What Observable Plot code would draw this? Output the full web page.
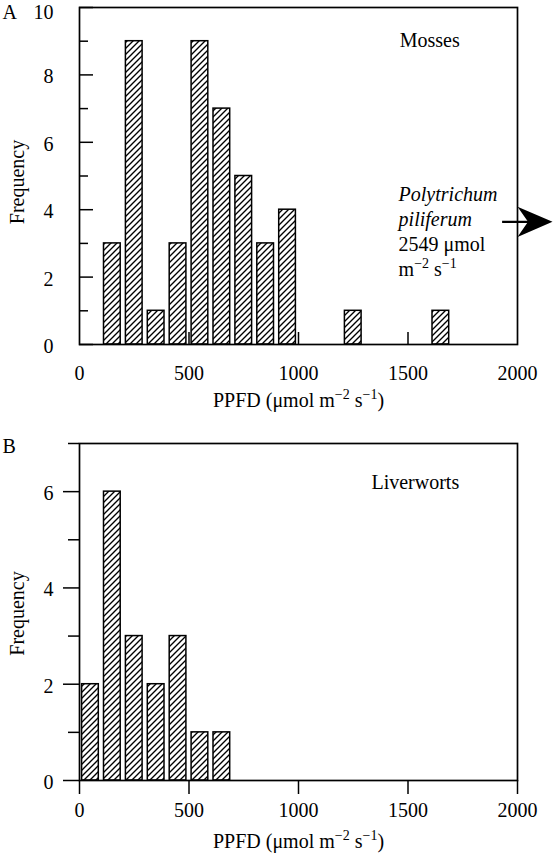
<!DOCTYPE html>
<html><head><meta charset="utf-8">
<script src="https://cdn.jsdelivr.net/npm/d3@7"></script>
<script src="https://cdn.jsdelivr.net/npm/@observablehq/plot@0.6"></script>
<style>
html,body{margin:0;padding:0;background:#fff;overflow:hidden;}
#wrap{position:relative;width:554px;height:853px;}
#wrap svg{position:absolute;left:0;overflow:visible;}
</style></head><body><div id="wrap"></div>
<script>
// ---- data ----
const mossCenters  = [150, 250, 350, 450, 550, 650, 750, 850, 950, 1250, 1650];
const mossCounts   = [3, 9, 1, 3, 9, 7, 5, 3, 4, 1, 1];
const liverCenters = [50, 150, 250, 350, 450, 550, 650];
const liverCounts  = [2, 6, 3, 2, 3, 1, 1];
const binWidth = 100;
const xTicks = [0, 500, 1000, 1500, 2000];
const mossYMajor = [0, 2, 4, 6, 8, 10];
const mossYMinor = [1, 3, 5, 7, 9];
const liverYMajor = [0, 2, 4, 6];
const liverYMinor = [1, 3, 5, 7];
const xTitle = "PPFD (μmol m^−2 s^−1)";
const yTitle = "Frequency";
const panelLetters = ["A", "B"];
const panelNames = ["Mosses", "Liverworts"];
const namePosX = [1462, 1333];
const namePosY = [9.02, 6.18];
const noteLines = ["Polytrichum", "piliferum", "2549 μmol", "m^−2 s^−1"];
const noteItalic = [true, true, false, false];
const noteX = 1457;
const noteY = [4.45, 3.71, 2.97, 2.23];
const arrowY = 3.64, arrowX1 = 1932, arrowX2 = 2085, arrowHeadX = 2080;

const FONT = "'Liberation Serif', 'Times New Roman', serif";
const FS = 20;
const ns = "http://www.w3.org/2000/svg";

const arrowHead = {draw(ctx, size) {
  const r = Math.sqrt(size / Math.PI);
  ctx.moveTo(r, 0); ctx.lineTo(-r, -0.86 * r); ctx.lineTo(-0.4 * r, 0); ctx.lineTo(-r, 0.86 * r); ctx.closePath();
}};

function addHatch(svg, id) {
  const defs = document.createElementNS(ns, "defs");
  defs.innerHTML = `<pattern id="${id}" patternUnits="userSpaceOnUse" width="6" height="6"><rect width="6" height="6" fill="white"/><path d="M-1.5,1.5L1.5,-1.5M0,6L6,0M4.5,7.5L7.5,4.5" stroke="black" stroke-width="1.35"/></pattern>`;
  svg.insertBefore(defs, svg.firstChild);
}
function supify(svg) {
  const sup = 14, raise = 7.5;
  svg.querySelectorAll("text").forEach(t => {
    const s = t.textContent;
    if (!s.includes("^")) return;
    t.textContent = "";
    const parts = s.split(/\^([−\-]?\d+)/);
    parts.forEach((p, i) => {
      if (!p) return;
      const ts = document.createElementNS(ns, "tspan");
      ts.textContent = p;
      if (i % 2 === 1) { ts.setAttribute("font-size", sup); ts.setAttribute("dy", -raise); }
      else if (i > 0) { ts.setAttribute("dy", raise); }
      t.appendChild(ts);
    });
  });
}

function panel(opts) {
  const data = opts.centers.map((c, i) => ({c, n: opts.counts[i]}));
  const inward = opts.inward;
  const ymax = opts.ydomain[1];
  const svg = Plot.plot({
    width: 554, height: opts.height,
    marginLeft: 79, marginRight: 37, marginTop: opts.mt, marginBottom: opts.mb,
    style: {fontFamily: FONT, fontSize: FS + "px", color: "black", background: "transparent"},
    x: {domain: [0, 2000], label: null},
    y: {domain: opts.ydomain, label: null},
    marks: [
      Plot.rectY(data, {x1: d => d.c - binWidth / 2, x2: d => d.c + binWidth / 2, y: "n",
        fill: `url(#${opts.id})`, stroke: "black", strokeWidth: 1.5, insetLeft: 2.6, insetRight: 2.6}),
      Plot.frame({stroke: "black", strokeWidth: 1.7}),
      Plot.axisY(opts.major, {tickSize: inward ? -14 : 16, fill: "none", strokeWidth: 1.5}),
      Plot.axisY(opts.minor, {tickSize: inward ? -9 : 11, fill: "none", strokeWidth: 1.5}),
      Plot.axisY(opts.major.filter(v => v !== ymax), {tickSize: 0, tickPadding: 26, fontSize: FS, tickFormat: "d", dy: 2}),
      Plot.axisY(opts.major.filter(v => v === ymax), {tickSize: 0, tickPadding: 26, fontSize: FS, tickFormat: "d", dy: 4.6}),
      Plot.axisX(opts.xt, {tickSize: inward ? -12 : 14, fill: "none", strokeWidth: 1.5}),
      Plot.axisX(xTicks, {tickSize: 0, tickPadding: opts.xpad, fontSize: FS, tickFormat: "d"}),
      Plot.text([xTitle], {text: d => d, frameAnchor: "bottom", lineAnchor: "middle", textAnchor: "middle", dy: opts.titleDy, fontSize: FS}),
      Plot.text([yTitle], {text: d => d, frameAnchor: "left", textAnchor: "middle", lineAnchor: "middle", rotate: -90, dx: -61.5, dy: opts.freqDy, fontSize: FS}),
      Plot.text([opts.letter], {text: d => d, frameAnchor: "top-left", textAnchor: "start", lineAnchor: "middle", dx: -77, dy: opts.letterDy, fontSize: FS}),
      Plot.text([opts.name], {text: d => d, x: () => opts.nameX, y: () => opts.nameY, textAnchor: "start", fontSize: FS}),
      ...(opts.extra || [])
    ]
  });
  addHatch(svg, opts.id);
  supify(svg);
  return svg;
}

const noteData = noteLines.map((t, i) => ({t, y: noteY[i], it: noteItalic[i]}));
const arrowData = [{y: arrowY, x1: arrowX1, x2: arrowX2, xh: arrowHeadX}];

const svgA = panel({
  id: "hatchA", height: 420, mt: 7, mb: 76, ydomain: [0, 10],
  centers: mossCenters, counts: mossCounts, major: mossYMajor, minor: mossYMinor,
  inward: true, xt: [500, 1000, 1500], xpad: 21, titleDy: 56, freqDy: 6, letter: panelLetters[0], letterDy: 4.6,
  name: panelNames[0], nameX: namePosX[0], nameY: namePosY[0],
  extra: [
    Plot.text(noteData.filter(d => d.it), {x: () => noteX, y: "y", text: "t", textAnchor: "start", fontStyle: "italic", fontSize: FS}),
    Plot.text(noteData.filter(d => !d.it), {x: () => noteX, y: "y", text: "t", textAnchor: "start", fontSize: FS}),
    Plot.ruleY(arrowData, {y: "y", x1: "x1", x2: "x2", stroke: "black", strokeWidth: 2.2}),
    Plot.dot(arrowData, {x: "xh", y: "y", r: 17.5, symbol: arrowHead, fill: "black", stroke: "none"})
  ]
});
svgA.style.top = "0px";

const svgB = panel({
  id: "hatchB", height: 433, mt: 23, mb: 73, ydomain: [0, 7],
  centers: liverCenters, counts: liverCounts, major: liverYMajor, minor: liverYMinor,
  inward: false, xt: xTicks, xpad: 22, titleDy: 61, freqDy: 1.5, letter: panelLetters[1], letterDy: 3,
  name: panelNames[1], nameX: namePosX[1], nameY: namePosY[1]
});
svgB.style.top = "420px";

const wrap = document.getElementById("wrap");
wrap.appendChild(svgA);
wrap.appendChild(svgB);
</script>
</body></html>
